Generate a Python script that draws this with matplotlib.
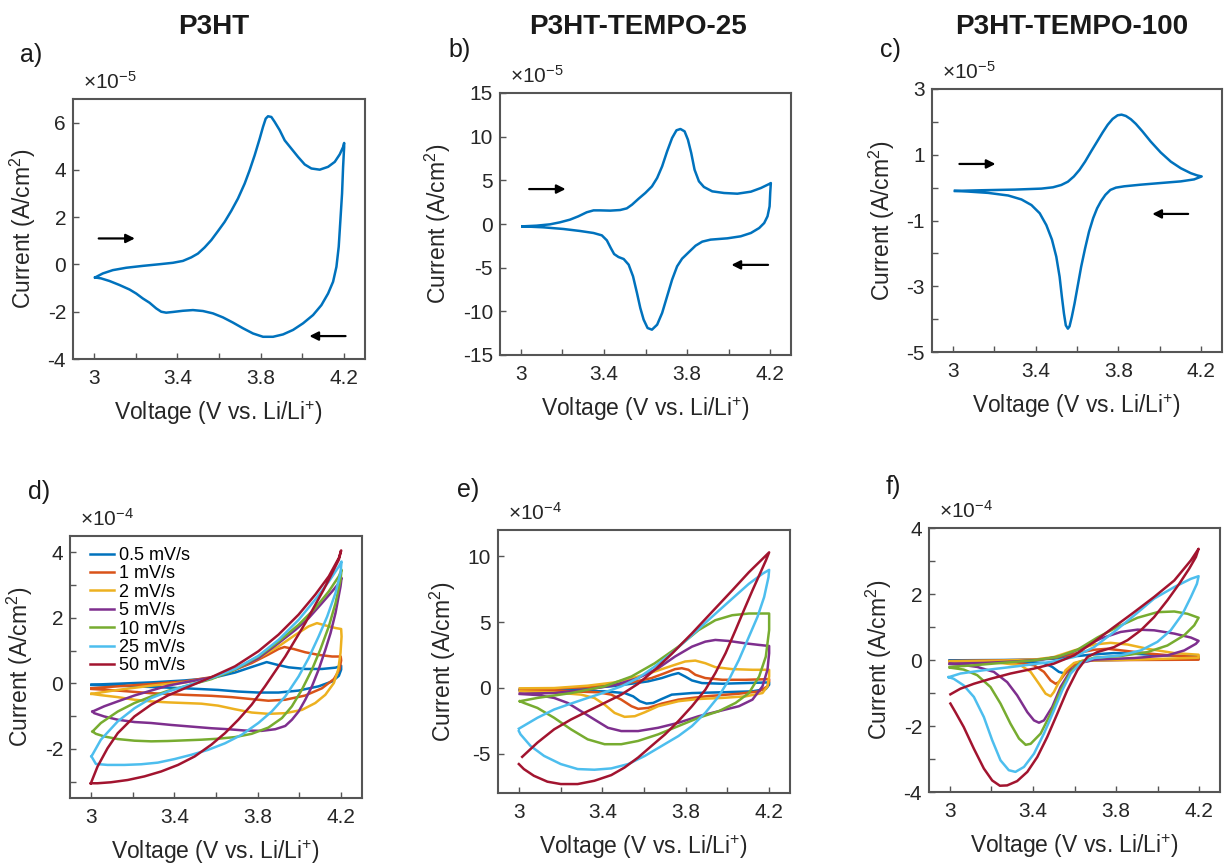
import matplotlib
matplotlib.use('Agg')
import matplotlib.pyplot as plt

plt.rcParams['font.family'] = ['Liberation Sans', 'DejaVu Sans']
plt.rcParams['mathtext.fontset'] = 'custom'
plt.rcParams['mathtext.rm'] = 'Liberation Sans'
plt.rcParams['mathtext.it'] = 'Liberation Sans:italic'
plt.rcParams['mathtext.bf'] = 'Liberation Sans:bold'

# ---- data (current in units of the axis multiplier) ----
# a) P3HT, x1e-5, one loop: forward then reverse
a_v = [3.006, 3.043, 3.091, 3.155, 3.235, 3.315, 3.379, 3.427, 3.467, 3.499, 3.531, 3.563, 3.595,
       3.627, 3.659, 3.691, 3.723, 3.747, 3.771, 3.795, 3.811, 3.824, 3.835, 3.851, 3.867, 3.891,
       3.915, 3.947, 3.979, 4.011, 4.043, 4.083, 4.123, 4.155, 4.179, 4.195, 4.20,
       4.20, 4.195, 4.19, 4.182, 4.174, 4.163, 4.147, 4.123, 4.091, 4.051, 4.003, 3.955, 3.907,
       3.859, 3.811, 3.763, 3.715, 3.667, 3.619, 3.571, 3.523, 3.475, 3.427, 3.379, 3.347, 3.323,
       3.299, 3.267, 3.235, 3.203, 3.171, 3.123, 3.075, 3.035, 3.006]
a_i = [-0.55, -0.38, -0.24, -0.14, -0.06, 0.01, 0.07, 0.15, 0.30, 0.46, 0.72, 1.03, 1.41,
       1.80, 2.27, 2.79, 3.42, 3.99, 4.62, 5.32, 5.82, 6.17, 6.27, 6.24, 6.03, 5.68,
       5.25, 4.90, 4.55, 4.23, 4.06, 4.01, 4.13, 4.34, 4.66, 4.97, 5.14,
       4.97, 4.13, 3.0, 1.87, 0.75, -0.10, -0.73, -1.23, -1.72, -2.14, -2.49, -2.77, -2.96,
       -3.06, -3.06, -2.92, -2.70, -2.46, -2.24, -2.07, -1.97, -1.93, -1.96, -2.01, -2.04, -2.0,
       -1.86, -1.62, -1.44, -1.23, -1.06, -0.87, -0.70, -0.59, -0.55]

# b) P3HT-TEMPO-25, x1e-5
b_v = [3.008, 3.076, 3.14, 3.188, 3.237, 3.277, 3.317, 3.35, 3.382, 3.43, 3.478, 3.51, 3.535,
       3.567, 3.599, 3.631, 3.656, 3.68, 3.704, 3.728, 3.749, 3.768, 3.788, 3.804, 3.82, 3.836,
       3.857, 3.881, 3.921, 3.978, 4.042, 4.107, 4.155, 4.195, 4.203,
       4.2, 4.197, 4.187, 4.171, 4.147, 4.107, 4.058, 3.994, 3.913, 3.873, 3.841, 3.809, 3.776,
       3.752, 3.728, 3.704, 3.68, 3.656, 3.631, 3.61, 3.591, 3.575, 3.559, 3.54, 3.519, 3.495,
       3.47, 3.449, 3.433, 3.414, 3.39, 3.35, 3.285, 3.205, 3.108, 3.008]
b_i = [-0.27, -0.19, -0.04, 0.19, 0.50, 0.88, 1.34, 1.56, 1.56, 1.53, 1.60, 1.79, 2.21,
       2.90, 3.55, 4.31, 5.27, 6.60, 8.32, 9.85, 10.73, 10.88, 10.61, 9.66, 8.13, 6.22,
       4.89, 4.24, 3.74, 3.55, 3.47, 3.70, 4.12, 4.58, 4.69,
       3.55, 2.02, 0.88, 0.11, -0.46, -1.03, -1.41, -1.64, -1.79, -2.02, -2.48, -3.21, -3.97,
       -4.85, -6.37, -8.28, -10.19, -11.53, -12.10, -11.91, -10.95, -9.62, -7.90, -5.99, -4.66, -4.01,
       -3.78, -3.44, -2.75, -1.87, -1.30, -1.03, -0.80, -0.57, -0.38, -0.27]

# c) P3HT-TEMPO-100, x1e-5
c_v = [3.011, 3.139, 3.30, 3.428, 3.484, 3.524, 3.556, 3.585, 3.612, 3.639, 3.668, 3.697, 3.724,
       3.748, 3.772, 3.796, 3.815, 3.836, 3.86, 3.884, 3.916, 3.956, 4.004, 4.053, 4.101, 4.149,
       4.181, 4.202,
       4.165, 4.101, 4.004, 3.908, 3.828, 3.788, 3.761, 3.737, 3.716, 3.697, 3.678, 3.658, 3.639,
       3.62, 3.604, 3.588, 3.575, 3.564, 3.556, 3.546, 3.537, 3.527, 3.516, 3.50, 3.479, 3.452,
       3.42, 3.38, 3.332, 3.268, 3.171, 3.075, 3.011]
c_i = [-0.10, -0.08, -0.06, -0.03, 0.01, 0.08, 0.18, 0.34, 0.54, 0.79, 1.10, 1.40, 1.68,
       1.91, 2.09, 2.20, 2.22, 2.18, 2.08, 1.94, 1.71, 1.40, 1.07, 0.79, 0.59, 0.44,
       0.37, 0.34,
       0.25, 0.19, 0.14, 0.09, 0.04, 0.0, -0.07, -0.22, -0.41, -0.63, -0.93, -1.34, -1.85,
       -2.41, -2.97, -3.53, -3.93, -4.22, -4.29, -4.19, -3.83, -3.32, -2.71, -2.10, -1.58, -1.14,
       -0.78, -0.53, -0.36, -0.24, -0.16, -0.12, -0.10]

rates = ['0.5 mV/s', '1 mV/s', '2 mV/s', '5 mV/s', '10 mV/s', '25 mV/s', '50 mV/s']
colors = ['#0072BD', '#D95319', '#EDB120', '#7E2F8E', '#77AC30', '#4DBEEE', '#A2142F']

# d) P3HT scan-rate series, x1e-4 (one list per scan rate)
d_v = [
    [3.003, 3.129, 3.289, 3.45, 3.578, 3.691, 3.771, 3.843, 3.892, 3.948, 4.028, 4.108, 4.173, 4.2,
     4.2, 4.189, 4.157, 4.092, 3.996, 3.9, 3.803, 3.707, 3.61, 3.45, 3.289, 3.129, 3.003],
    [3.003, 3.129, 3.289, 3.45, 3.578, 3.691, 3.771, 3.851, 3.9, 3.928, 3.972, 4.028, 4.092, 4.157, 4.198,
     4.2, 4.192, 4.165, 4.108, 4.028, 3.932, 3.851, 3.771, 3.675, 3.578, 3.45, 3.289, 3.129, 3.003],
    [3.003, 3.129, 3.289, 3.45, 3.578, 3.691, 3.803, 3.9, 3.98, 4.044, 4.084, 4.124, 4.173, 4.2,
     4.202, 4.197, 4.186, 4.165, 4.124, 4.076, 4.012, 3.932, 3.851, 3.771, 3.691, 3.61, 3.53, 3.45,
     3.369, 3.289, 3.209, 3.129, 3.048, 3.003],
    [3.008, 3.064, 3.129, 3.209, 3.289, 3.369, 3.45, 3.578, 3.691, 3.803, 3.9, 3.98, 4.044, 4.108,
     4.157, 4.189, 4.202,
     4.197, 4.173, 4.149, 4.124, 4.092, 4.06, 4.028, 3.996, 3.964, 3.932, 3.884, 3.819, 3.739, 3.659,
     3.578, 3.482, 3.386, 3.289, 3.209, 3.129, 3.064, 3.016, 3.008],
    [3.008, 3.048, 3.129, 3.209, 3.289, 3.369, 3.45, 3.578, 3.691, 3.803, 3.9, 3.996, 4.076, 4.141,
     4.189, 4.202,
     4.197, 4.173, 4.141, 4.1, 4.06, 4.012, 3.964, 3.916, 3.851, 3.771, 3.691, 3.61, 3.53, 3.45,
     3.369, 3.289, 3.209, 3.129, 3.064, 3.024, 3.008],
    [3.003, 3.048, 3.129, 3.209, 3.289, 3.369, 3.45, 3.578, 3.691, 3.803, 3.9, 3.996, 4.076, 4.141,
     4.189, 4.202,
     4.197, 4.173, 4.133, 4.092, 4.044, 3.996, 3.932, 3.867, 3.803, 3.723, 3.643, 3.562, 3.482, 3.402,
     3.321, 3.241, 3.161, 3.08, 3.024, 3.003],
    [3.0, 3.032, 3.08, 3.129, 3.209, 3.289, 3.369, 3.45, 3.578, 3.691, 3.803, 3.9, 3.996, 4.076,
     4.141, 4.189, 4.2,
     4.189, 4.157, 4.116, 4.076, 4.028, 3.98, 3.932, 3.884, 3.835, 3.771, 3.707, 3.643, 3.578, 3.498,
     3.418, 3.337, 3.257, 3.177, 3.096, 3.032, 3.0],
]
d_i = [
    [-0.04, -0.01, 0.03, 0.09, 0.16, 0.33, 0.50, 0.65, 0.57, 0.49, 0.44, 0.44, 0.48, 0.54,
     0.42, 0.23, 0.06, -0.09, -0.22, -0.28, -0.28, -0.25, -0.20, -0.15, -0.11, -0.07, -0.05],
    [-0.15, -0.09, -0.02, 0.06, 0.19, 0.42, 0.62, 0.88, 1.05, 1.11, 1.05, 0.95, 0.87, 0.82, 0.82,
     0.70, 0.42, 0.13, -0.15, -0.37, -0.50, -0.53, -0.48, -0.42, -0.38, -0.35, -0.30, -0.22, -0.17],
    [-0.32, -0.20, -0.07, 0.03, 0.16, 0.42, 0.77, 1.13, 1.48, 1.74, 1.84, 1.77, 1.69, 1.66,
     1.43, 0.93, 0.42, 0.01, -0.35, -0.60, -0.81, -0.91, -0.93, -0.89, -0.79, -0.68, -0.62, -0.60,
     -0.58, -0.55, -0.50, -0.42, -0.36, -0.32],
    [-0.86, -0.70, -0.55, -0.37, -0.22, -0.07, 0.03, 0.18, 0.42, 0.77, 1.23, 1.63, 1.99, 2.45,
     2.81, 3.06, 3.22,
     2.96, 2.15, 1.53, 1.02, 0.42, -0.09, -0.50, -0.86, -1.11, -1.30, -1.40, -1.45, -1.44, -1.40,
     -1.37, -1.32, -1.27, -1.21, -1.18, -1.11, -1.01, -0.91, -0.86],
    [-1.47, -1.21, -0.86, -0.60, -0.40, -0.23, -0.09, 0.13, 0.42, 0.82, 1.28, 1.79, 2.30, 2.81,
     3.27, 3.47,
     3.16, 2.45, 1.74, 1.03, 0.42, -0.19, -0.70, -1.06, -1.35, -1.54, -1.64, -1.69, -1.72, -1.74,
     -1.76, -1.77, -1.75, -1.70, -1.62, -1.54, -1.47],
    [-2.23, -1.72, -1.16, -0.76, -0.45, -0.25, -0.09, 0.16, 0.44, 0.84, 1.33, 1.94, 2.56, 3.11,
     3.57, 3.72,
     3.37, 2.76, 2.04, 1.43, 0.77, 0.21, -0.40, -0.86, -1.21, -1.57, -1.83, -2.03, -2.18, -2.31,
     -2.42, -2.47, -2.49, -2.49, -2.46, -2.23],
    [-3.05, -2.54, -1.98, -1.52, -1.01, -0.65, -0.37, -0.15, 0.19, 0.52, 0.98, 1.49, 2.10, 2.71,
     3.27, 3.83, 4.06,
     3.78, 3.37, 2.86, 2.40, 1.84, 1.33, 0.82, 0.37, -0.09, -0.65, -1.11, -1.52, -1.87, -2.23,
     -2.49, -2.69, -2.84, -2.95, -3.02, -3.05, -3.05],
]

# e) P3HT-TEMPO-25 scan-rate series, x1e-4
e_v = [
    [3.005, 3.169, 3.33, 3.443, 3.54, 3.62, 3.685, 3.733, 3.765, 3.797, 3.83, 3.878, 3.975, 4.087, 4.2,
     4.2, 4.184, 4.12, 3.975, 3.83, 3.733, 3.685, 3.644, 3.612, 3.58, 3.548, 3.507, 3.411, 3.25,
     3.089, 3.005],
    [3.005, 3.169, 3.33, 3.443, 3.54, 3.636, 3.701, 3.749, 3.781, 3.813, 3.846, 3.894, 3.975, 4.087, 4.2,
     4.2, 4.192, 4.152, 4.055, 3.894, 3.765, 3.685, 3.62, 3.572, 3.54, 3.491, 3.443, 3.379, 3.25,
     3.089, 3.005],
    [3.005, 3.169, 3.33, 3.459, 3.572, 3.652, 3.733, 3.797, 3.846, 3.894, 3.942, 4.023, 4.12, 4.2,
     4.2, 4.192, 4.168, 4.087, 3.975, 3.862, 3.765, 3.668, 3.604, 3.556, 3.507, 3.459, 3.411, 3.362,
     3.298, 3.169, 3.005],
    [3.005, 3.169, 3.33, 3.459, 3.572, 3.668, 3.749, 3.83, 3.894, 3.942, 4.007, 4.087, 4.152, 4.2,
     4.2, 4.192, 4.168, 4.12, 4.055, 3.958, 3.862, 3.765, 3.668, 3.572, 3.491, 3.427, 3.362, 3.298,
     3.234, 3.169, 3.089, 3.005],
    [3.005, 3.089, 3.25, 3.411, 3.54, 3.652, 3.765, 3.862, 3.942, 4.023, 4.103, 4.2,
     4.2, 4.184, 4.152, 4.103, 4.039, 3.958, 3.862, 3.765, 3.668, 3.572, 3.491, 3.411, 3.33, 3.25,
     3.169, 3.089, 3.024, 3.005],
    [3.0, 3.089, 3.169, 3.25, 3.33, 3.411, 3.491, 3.572, 3.652, 3.733, 3.83, 3.926, 4.023, 4.103,
     4.168, 4.2,
     4.197, 4.176, 4.144, 4.103, 4.055, 4.007, 3.958, 3.894, 3.83, 3.765, 3.685, 3.604, 3.524, 3.443,
     3.362, 3.282, 3.201, 3.121, 3.056, 3.008, 3.0],
    [3.016, 3.089, 3.169, 3.25, 3.33, 3.411, 3.491, 3.572, 3.652, 3.733, 3.83, 3.926, 4.023, 4.103,
     4.168, 4.2,
     4.184, 4.152, 4.12, 4.079, 4.039, 3.991, 3.942, 3.894, 3.83, 3.765, 3.701, 3.636, 3.572, 3.507,
     3.443, 3.362, 3.282, 3.201, 3.137, 3.072, 3.024, 3.0],
]
e_i = [
    [-0.14, -0.09, -0.02, 0.11, 0.31, 0.49, 0.74, 0.99, 1.12, 0.86, 0.56, 0.36, 0.31, 0.36, 0.41,
     0.23, -0.09, -0.27, -0.34, -0.40, -0.52, -0.85, -1.15, -1.20, -1.02, -0.65, -0.40, -0.27, -0.22,
     -0.19, -0.17],
    [-0.09, -0.07, 0.06, 0.21, 0.41, 0.74, 1.12, 1.42, 1.49, 1.37, 0.99, 0.74, 0.61, 0.61, 0.66,
     0.49, 0.11, -0.27, -0.45, -0.65, -0.90, -1.20, -1.53, -1.60, -1.40, -0.90, -0.52, -0.34, -0.27,
     -0.22, -0.22],
    [-0.04, -0.02, 0.16, 0.41, 0.86, 1.24, 1.67, 2.0, 2.07, 1.87, 1.57, 1.42, 1.37, 1.37,
     0.86, 0.11, -0.40, -0.65, -0.77, -0.85, -1.02, -1.40, -1.86, -2.16, -2.21, -1.91, -1.28, -0.77,
     -0.52, -0.35, -0.27],
    [-0.45, -0.40, -0.14, 0.21, 0.74, 1.49, 2.38, 3.13, 3.51, 3.64, 3.56, 3.38, 3.26, 3.18,
     2.63, 1.37, 0.11, -0.90, -1.40, -1.78, -2.16, -2.66, -3.04, -3.29, -3.29, -3.04, -2.41, -1.78,
     -1.15, -0.77, -0.55, -0.47],
    [-1.02, -0.77, -0.40, 0.11, 0.86, 1.87, 3.13, 4.39, 5.14, 5.52, 5.65, 5.65,
     4.39, 2.37, 0.86, -0.40, -1.15, -1.78, -2.28, -2.91, -3.54, -4.04, -4.29, -4.29, -3.92, -3.16,
     -2.28, -1.53, -1.15, -1.02],
    [-3.11, -2.28, -1.65, -1.20, -0.77, -0.35, 0.11, 0.74, 1.62, 2.63, 4.01, 5.40, 6.78, 7.91,
     8.67, 8.97,
     8.42, 6.90, 5.39, 3.88, 2.12, 0.61, -0.65, -1.90, -2.91, -3.67, -4.42, -5.18, -5.80, -6.13,
     -6.23, -6.18, -5.80, -5.18, -4.42, -3.54, -3.29],
    [-5.25, -4.17, -3.16, -2.41, -1.78, -1.15, -0.52, 0.31, 1.37, 2.58, 4.14, 5.77, 7.41, 8.79,
     9.80, 10.30,
     9.67, 8.54, 7.41, 5.90, 4.39, 2.63, 1.12, -0.15, -1.40, -2.53, -3.54, -4.42, -5.30, -6.06,
     -6.64, -7.07, -7.32, -7.32, -7.14, -6.69, -6.18, -5.80],
]

# f) P3HT-TEMPO-100 scan-rate series, x1e-4
f_v = [
    [3.0, 3.244, 3.405, 3.501, 3.598, 3.694, 3.79, 3.887, 4.015, 4.197,
     4.197, 3.887, 3.646, 3.598, 3.573, 3.553, 3.525, 3.493, 3.453, 3.324, 3.164, 3.0],
    [3.0, 3.244, 3.405, 3.501, 3.598, 3.694, 3.758, 3.855, 3.967, 4.08, 4.197,
     4.197, 3.887, 3.694, 3.63, 3.582, 3.549, 3.525, 3.509, 3.485, 3.453, 3.405, 3.324, 3.164, 3.0],
    [3.0, 3.244, 3.405, 3.501, 3.598, 3.694, 3.774, 3.855, 3.951, 4.08, 4.197,
     4.197, 3.887, 3.646, 3.598, 3.557, 3.525, 3.501, 3.485, 3.461, 3.429, 3.389, 3.341, 3.244,
     3.084, 3.0],
    [3.0, 3.164, 3.324, 3.437, 3.533, 3.63, 3.726, 3.822, 3.903, 3.983, 4.08, 4.16, 4.197,
     4.184, 4.128, 4.047, 3.887, 3.694, 3.63, 3.582, 3.533, 3.493, 3.453, 3.429, 3.405, 3.373,
     3.324, 3.276, 3.212, 3.132, 3.051, 3.0],
    [3.0, 3.116, 3.244, 3.405, 3.517, 3.614, 3.71, 3.806, 3.903, 3.999, 4.08, 4.144, 4.197,
     4.176, 4.128, 4.047, 3.951, 3.822, 3.694, 3.63, 3.582, 3.533, 3.485, 3.437, 3.389, 3.365,
     3.333, 3.292, 3.244, 3.196, 3.132, 3.067, 3.0],
    [2.995, 3.051, 3.164, 3.324, 3.485, 3.598, 3.694, 3.79, 3.887, 3.983, 4.08, 4.16, 4.197,
     4.189, 4.16, 4.12, 4.063, 3.999, 3.919, 3.822, 3.694, 3.63, 3.582, 3.541, 3.501, 3.453,
     3.405, 3.357, 3.316, 3.284, 3.244, 3.204, 3.164, 3.116, 3.067, 3.019, 2.995],
    [3.003, 3.051, 3.116, 3.196, 3.292, 3.405, 3.501, 3.598, 3.694, 3.79, 3.887, 3.983, 4.08,
     4.16, 4.197,
     4.184, 4.152, 4.104, 4.047, 3.983, 3.919, 3.855, 3.79, 3.71, 3.662, 3.614, 3.565, 3.517,
     3.469, 3.421, 3.373, 3.324, 3.276, 3.241, 3.204, 3.164, 3.116, 3.067, 3.027, 3.003],
]
f_i = [
    [-0.01, 0.0, 0.01, 0.04, 0.11, 0.17, 0.21, 0.19, 0.14, 0.11,
     0.03, 0.01, -0.01, -0.11, -0.29, -0.41, -0.36, -0.21, -0.09, -0.04, -0.02, -0.02],
    [-0.03, -0.01, 0.01, 0.06, 0.19, 0.31, 0.34, 0.27, 0.19, 0.13, 0.09,
     0.01, 0.0, -0.01, -0.06, -0.21, -0.46, -0.67, -0.72, -0.62, -0.36, -0.16, -0.08, -0.05, -0.04],
    [-0.04, -0.02, 0.01, 0.09, 0.29, 0.47, 0.52, 0.47, 0.34, 0.21, 0.16,
     0.07, 0.01, -0.01, -0.09, -0.31, -0.67, -0.97, -1.10, -1.02, -0.72, -0.36, -0.16, -0.09,
     -0.06, -0.05],
    [-0.11, -0.09, -0.04, 0.01, 0.11, 0.34, 0.65, 0.85, 0.92, 0.90, 0.80, 0.68, 0.58,
     0.49, 0.29, 0.14, 0.06, 0.01, -0.09, -0.31, -0.82, -1.42, -1.83, -1.90, -1.83, -1.58,
     -1.07, -0.67, -0.36, -0.21, -0.14, -0.12],
    [-0.21, -0.16, -0.09, -0.01, 0.09, 0.31, 0.68, 1.0, 1.28, 1.45, 1.47, 1.40, 1.28,
     1.05, 0.75, 0.44, 0.24, 0.12, 0.07, -0.06, -0.36, -0.92, -1.63, -2.23, -2.54, -2.57,
     -2.38, -1.93, -1.32, -0.82, -0.46, -0.29, -0.23],
    [-0.52, -0.41, -0.31, -0.19, -0.06, 0.09, 0.39, 0.85, 1.35, 1.86, 2.21, 2.46, 2.54,
     2.31, 1.91, 1.40, 0.90, 0.55, 0.29, 0.14, 0.06, -0.09, -0.41, -0.92, -1.53, -2.23,
     -2.84, -3.24, -3.39, -3.34, -3.04, -2.43, -1.73, -1.12, -0.77, -0.57, -0.52],
    [-1.04, -0.87, -0.72, -0.57, -0.41, -0.26, -0.11, 0.14, 0.55, 1.0, 1.45, 1.91, 2.41,
     3.02, 3.37,
     3.12, 2.77, 2.31, 1.81, 1.30, 0.90, 0.60, 0.39, 0.24, 0.09, -0.31, -0.92, -1.63,
     -2.33, -2.94, -3.39, -3.67, -3.80, -3.81, -3.65, -3.29, -2.69, -2.03, -1.58, -1.32],
]

fig = plt.figure(figsize=(12.25, 8.66), dpi=100)
W, H = 1225, 866


def make_ax(l, r, t, b):
    return fig.add_axes([l / W, 1 - b / H, (r - l) / W, (b - t) / H])


ax_a = make_ax(73, 365, 99, 359)
ax_b = make_ax(500, 791, 93, 355)
ax_c = make_ax(932, 1222, 89, 352)
ax_d = make_ax(70, 362, 536, 798)
ax_e = make_ax(498, 790, 530, 793)
ax_f = make_ax(929, 1220, 528, 792)

blue = '#0072BD'
ax_a.plot(a_v, a_i, color=blue, lw=1.8)
ax_b.plot(b_v, b_i, color=blue, lw=1.8)
ax_c.plot(c_v, c_i, color=blue, lw=1.8)

for vs, cur, ax in [(d_v, d_i, ax_d), (e_v, e_i, ax_e), (f_v, f_i, ax_f)]:
    for k in range(len(rates)):
        ax.plot(vs[k], cur[k], color=colors[k], lw=1.8, label=rates[k])

ax_d.legend(loc='upper left', frameon=False, fontsize=13, handlelength=1.35,
            handletextpad=0.3, labelspacing=0.08, borderaxespad=0.2,
            bbox_to_anchor=(0.03, 1.0))

# axes formatting
ylims = {ax_a: (-4, 7), ax_b: (-15, 15), ax_c: (-5, 3), ax_d: (-3.5, 4.5), ax_e: (-8, 12), ax_f: (-4, 4)}
yticks = {ax_a: [-4, -2, 0, 2, 4, 6], ax_b: [-15, -10, -5, 0, 5, 10, 15],
          ax_c: [-5, -4, -3, -2, -1, 0, 1, 2, 3], ax_d: [-3, -2, -1, 0, 1, 2, 3, 4],
          ax_e: [-5, 0, 5, 10], ax_f: [-4, -3, -2, -1, 0, 1, 2, 3, 4]}
ylabels_shown = {ax_a: None, ax_b: None, ax_c: [-5, -3, -1, 1, 3],
                 ax_d: [-2, 0, 2, 4], ax_e: None, ax_f: [-4, -2, 0, 2, 4]}
mult = {ax_a: '-5', ax_b: '-5', ax_c: '-5', ax_d: '-4', ax_e: '-4', ax_f: '-4'}

for ax in [ax_a, ax_b, ax_c, ax_d, ax_e, ax_f]:
    ax.set_xlim(2.9, 4.3)
    ax.set_ylim(*ylims[ax])
    ax.set_xticks([3, 3.2, 3.4, 3.6, 3.8, 4.0, 4.2])
    ax.set_xticklabels(['3', '', '3.4', '', '3.8', '', '4.2'])
    ax.set_yticks(yticks[ax])
    shown = ylabels_shown[ax]
    ax.set_yticklabels([str(t) if (shown is None or t in shown) else '' for t in yticks[ax]])
    ax.tick_params(direction='in', length=4, width=1, colors='#555555', labelcolor='#262626',
                   labelsize=15)
    ax.tick_params(axis='x', pad=7)
    ax.tick_params(axis='y', pad=5)
    for sp in ax.spines.values():
        sp.set_color('#555555')
        sp.set_linewidth(1.5)
    ax.set_xlabel('Voltage (V vs. Li/Li$^{+}$)', fontsize=16.5, color='#262626', labelpad=8)
    ax.set_ylabel('Current (A/cm$^{2}$)', fontsize=16.5, color='#262626', labelpad=7)
    ax.text(0.035, 1.065, '×10$^{' + mult[ax] + '}$', transform=ax.transAxes,
            fontsize=15, color='#262626', ha='left', va='center')

# scan direction arrows
arrow = dict(arrowstyle='-|>', color='black', lw=1.6, mutation_scale=13)
ax_a.annotate('', xy=(3.21, 1.1), xytext=(3.01, 1.1), arrowprops=arrow)
ax_a.annotate('', xy=(4.02, -3.03), xytext=(4.22, -3.03), arrowprops=arrow)
ax_b.annotate('', xy=(3.229, 4.0), xytext=(3.027, 4.0), arrowprops=arrow)
ax_b.annotate('', xy=(4.0, -4.68), xytext=(4.203, -4.68), arrowprops=arrow)
ax_c.annotate('', xy=(3.22, 0.72), xytext=(3.019, 0.72), arrowprops=arrow)
ax_c.annotate('', xy=(3.95, -0.80), xytext=(4.15, -0.80), arrowprops=arrow)

# column titles and panel letters
for x, t in [(214, 'P3HT'), (638, 'P3HT-TEMPO-25'), (1072, 'P3HT-TEMPO-100')]:
    fig.text(x / W, 1 - 27 / H, t, fontsize=20, fontweight='bold', color='#1a1a1a',
             ha='center', va='center')
for x, y, t in [(20, 55, 'a)'), (448, 50, 'b)'), (880, 50, 'c)'),
                (28, 492, 'd)'), (457, 490, 'e)'), (886, 487, 'f)')]:
    fig.text(x / W, 1 - y / H, t, fontsize=18, color='#1a1a1a', ha='left', va='center')

fig.savefig('out.png', dpi=100)
